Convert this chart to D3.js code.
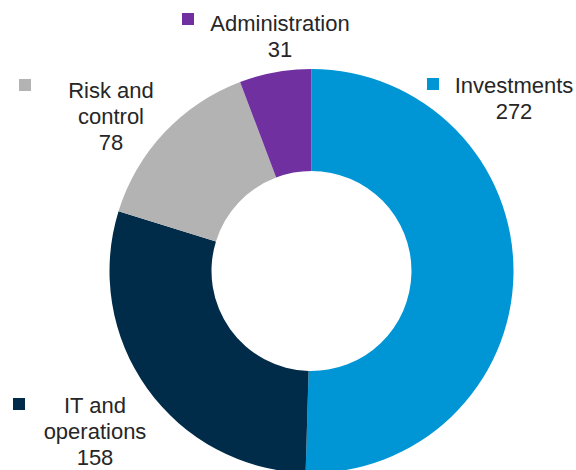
<!DOCTYPE html>
<html>
<head>
<meta charset="utf-8">
<script src="https://cdn.jsdelivr.net/npm/d3@7"></script>
<style>
  html, body { margin: 0; padding: 0; background: #fff; }
  svg { display: block; }
</style>
</head>
<body>
<svg id="chart" width="576" height="470"></svg>
<script>
const categories = ["Investments", "IT and operations", "Risk and control", "Administration"];
const values = [272, 158, 78, 31];
const colors = ["#0096D6", "#002B49", "#B3B3B3", "#7030A0"];
const labelLines = [["Investments"], ["IT and", "operations"], ["Risk and", "control"], ["Administration"]];

const svg = d3.select("#chart");
const cx = 311.5, cy = 271, outerR = 202, innerR = 100;

const pie = d3.pie().sort(null).value(d => d)(values);
const arc = d3.arc().innerRadius(innerR).outerRadius(outerR);

svg.append("g")
  .attr("transform", `translate(${cx},${cy})`)
  .selectAll("path")
  .data(pie)
  .join("path")
  .attr("d", arc)
  .attr("fill", (d, i) => colors[i]);

const labelPos = [
  { sx: 427, sy: 78, tx: 514, ty: 93 },
  { sx: 13, sy: 398, tx: 95, ty: 413 },
  { sx: 19, sy: 79, tx: 111, ty: 98 },
  { sx: 182, sy: 13, tx: 280, ty: 31 }
];
const lineH = 26;

const lg = svg.append("g");
categories.forEach((c, i) => {
  const p = labelPos[i];
  lg.append("rect")
    .attr("x", p.sx).attr("y", p.sy)
    .attr("width", 12).attr("height", 12)
    .attr("fill", colors[i]);
  const lines = labelLines[i].concat([String(values[i])]);
  const t = lg.append("text")
    .attr("text-anchor", "middle")
    .attr("font-family", "'Liberation Sans', Arial, sans-serif")
    .attr("font-size", 22)
    .attr("fill", "#262626");
  lines.forEach((ln, j) => {
    t.append("tspan").attr("x", p.tx).attr("y", p.ty + j * lineH).text(ln);
  });
});
</script>
</body>
</html>
